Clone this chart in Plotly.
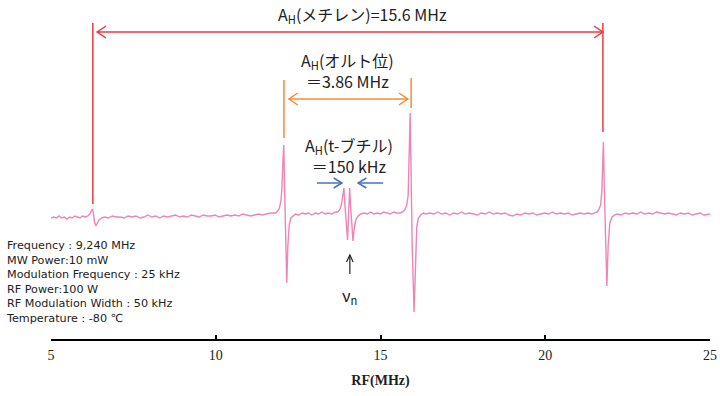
import plotly.graph_objects as go

# ---- data (RF frequency in MHz, ENDOR signal in arbitrary units) ----
rf_mhz = [
    5.00, 5.08, 5.16, 5.24, 5.32, 5.40, 5.48, 5.56, 5.64, 5.72, 5.80, 5.88, 5.96, 6.04, 6.12,
    6.18, 6.22, 6.26, 6.29, 6.32, 6.36, 6.40, 6.46, 6.54,
    6.62, 6.74, 6.86, 6.98, 7.10, 7.22, 7.34, 7.46, 7.58, 7.70, 7.82, 7.94, 8.06, 8.18, 8.30,
    8.42, 8.54, 8.66, 8.78, 8.90, 9.02, 9.14, 9.26, 9.38, 9.50, 9.62, 9.74, 9.86, 9.98, 10.10,
    10.22, 10.34, 10.46, 10.58, 10.70, 10.82, 10.94, 11.06, 11.18, 11.30, 11.42, 11.54, 11.66, 11.76,
    11.82, 11.88, 11.93, 11.98, 12.01, 12.04, 12.065, 12.09, 12.12, 12.155, 12.19, 12.23, 12.28, 12.34,
    12.42, 12.52, 12.62, 12.72, 12.82, 12.92, 13.02, 13.12, 13.22, 13.32, 13.42, 13.52, 13.62,
    13.70, 13.76, 13.81, 13.85, 13.89, 13.92, 13.96, 14.00, 14.03, 14.065, 14.09, 14.13, 14.165,
    14.20, 14.25, 14.32,
    14.40, 14.50, 14.60, 14.70, 14.80, 14.90, 15.00, 15.10, 15.20, 15.30, 15.40, 15.50, 15.60,
    15.67, 15.73, 15.79, 15.84, 15.87, 15.90, 15.93, 15.96, 16.02, 16.06, 16.10, 16.15, 16.22, 16.30,
    16.38, 16.50, 16.62, 16.74, 16.86, 16.98, 17.10, 17.22, 17.34, 17.46, 17.58, 17.70, 17.82,
    17.94, 18.06, 18.18, 18.30, 18.42, 18.54, 18.66, 18.78, 18.90, 19.02, 19.14, 19.26, 19.38,
    19.50, 19.62, 19.74, 19.86, 19.98, 20.10, 20.22, 20.34, 20.46, 20.58, 20.70, 20.82, 20.94,
    21.06, 21.18, 21.30, 21.42, 21.52,
    21.58, 21.63, 21.68, 21.72, 21.765, 21.79, 21.82, 21.87, 21.91, 21.96, 22.03, 22.10,
    22.18, 22.30, 22.42, 22.54, 22.66, 22.78, 22.90, 23.02, 23.14, 23.26, 23.38, 23.50, 23.62,
    23.74, 23.86, 23.98, 24.10, 24.22, 24.34, 24.46, 24.58, 24.70, 24.82, 24.94, 25.00,
]
signal = [
    -3, -2, -3, -1, -3, -2, -4, -2, -3, -1, -2, -3, -1, -2, -1,
    1, 4, 6, 1, -7, -11, -8, -5, -3,
    -2, -3, -1, -2, -2, -3, -1, -2, -1, -3, -2, 0, -2, -1, -3,
    -1, -2, -1, 0, -2, -1, -2, 0, -1, -2, 0, -1, -1, 0, -2,
    -1, 0, -1, 0, -1, 1, 0, -1, 0, 1, 0, 1, 2, 2,
    2, 4, 7, 14, 28, 55, 70, 25, -30, -68, -30, -10, -3, -1,
    1, 0, 2, 1, 2, 0, 2, 1, 3, 1, 2, 1, 3,
    3, 5, 10, 18, 27, 10, -10, -25, 0, 27, 10, -15, -26,
    -14, -5, -1,
    1, 2, 1, 3, 1, 2, 1, 3, 2, 1, 3, 2, 2,
    3, 5, 9, 20, 50, 102, 40, -30, -97, -40, -12, -3, 0, 2,
    1, 2, 1, 3, 1, 2, 0, 2, 1, 3, 1, 2, 1,
    0, 2, 1, 3, 1, 2, 1, 2, 0, -1, 1, 0, 2,
    1, 2, 0, 1, 2, 1, 3, 1, 2, 1, 2, 0, 1,
    2, 1, 2, 1, 2,
    3, 6, 10, 25, 73, 30, -20, -71, -30, -8, -2, 0,
    1, 0, 2, 1, 2, 1, 3, 1, 2, 1, 3, 2, 1,
    2, 1, 0, 2, 1, 2, 0, 1, 2, 0, 1, 1,
]
x_ticks = [5, 10, 15, 20, 25]

# splitting markers (MHz)
methylene_pair = [6.27, 21.75]
ortho_pair = [12.07, 15.93]
nu_n = 14.07

params_text = ("Frequency : 9,240 MHz<br>MW Power:10 mW<br>Modulation Frequency : 25 kHz"
               "<br>RF Power:100 W<br>RF Modulation Width : 50 kHz<br>Temperature : -80 ℃")

PINK = "#EF84B8"
RED = "#E8393F"
ORANGE = "#F28C38"
BLUE = "#4472C4"
INK = "#222222"
JP = "Noto Sans CJK JP, Noto Sans, sans-serif"

fig = go.Figure()
fig.add_trace(go.Scatter(x=rf_mhz, y=signal, mode="lines",
                         line=dict(color=PINK, width=1.4), hoverinfo="skip",
                         showlegend=False, cliponaxis=False))

shapes = []

def vline(x, y0, y1, color, width=1.5):
    shapes.append(dict(type="line", xref="x", yref="y", x0=x, x1=x, y0=y0, y1=y1,
                       line=dict(color=color, width=width)))

def harrow(x_from, x_to, y, color, both=False, dx=0.27, dy=6):
    shapes.append(dict(type="line", xref="x", yref="y", x0=x_from, x1=x_to, y0=y, y1=y,
                       line=dict(color=color, width=1.5)))
    def head(tip, direction):
        back = tip - direction * dx
        shapes.append(dict(type="path", xref="x", yref="y",
                           path=f"M {back},{y+dy} L {tip},{y} L {back},{y-dy}",
                           line=dict(color=color, width=1.5)))
    d = 1 if x_to > x_from else -1
    head(x_to, d)
    if both:
        head(x_from, -d)

# methylene (red)
vline(methylene_pair[0], 11, 192, RED)
vline(methylene_pair[1], 83, 192, RED)
harrow(6.40, methylene_pair[1], 183, RED, both=True)
# ortho (orange)
vline(ortho_pair[0], 77, 135, ORANGE)
vline(ortho_pair[1], 107, 137, ORANGE)
harrow(12.22, 15.83, 116, ORANGE, both=True)
# t-butyl (blue)
harrow(13.07, 13.83, 32, BLUE, dx=0.25, dy=5)
harrow(15.08, 14.32, 32, BLUE, dx=0.25, dy=5)
# nu_n pointer (black up arrow)
vline(nu_n, -40, -59, INK, width=1.2)
shapes.append(dict(type="path", xref="x", yref="y",
                   path=f"M {nu_n-0.1},-47 L {nu_n},-40 L {nu_n+0.1},-47",
                   line=dict(color=INK, width=1.2)))

annotations = [
    dict(x=14.44, y=201, text="A<sub>H</sub>(メチレン)=15.6 MHz"),
    dict(x=14.01, y=145, text="A<sub>H</sub>(オルト位)<br>＝3.86 MHz"),
    dict(x=14.05, y=60, text="A<sub>H</sub>(t-ブチル)<br>＝150 kHz"),
    dict(x=nu_n, y=-80, text="ν<sub>n</sub>"),
]
anns = []
for a in annotations:
    a.update(xref="x", yref="y", showarrow=False, xanchor="center", yanchor="middle",
             font=dict(family=JP, size=16, color=INK))
    anns.append(a)

anns.append(dict(xref="paper", yref="y", x=-0.0713, y=-22, xanchor="left", yanchor="top",
                 align="left", showarrow=False, text=params_text,
                 font=dict(family="DejaVu Sans", size=11.2, color=INK)))

fig.update_layout(
    width=720, height=396,
    margin=dict(l=51, r=10, t=5, b=57, autoexpand=False),
    paper_bgcolor="white", plot_bgcolor="white",
    shapes=shapes, annotations=anns,
    xaxis=dict(range=[5, 25], tickvals=x_ticks, ticks="inside", ticklen=4, tickwidth=1.5,
               tickcolor="black", showline=True, linecolor="black", linewidth=1.5,
               showgrid=False, zeroline=False,
               tickfont=dict(family="Liberation Serif", size=14, color=INK),
               ticklabelstandoff=2,
               title=dict(text="<b>RF(MHz)</b>", standoff=14,
                          font=dict(family="Liberation Serif", size=14, color=INK))),
    yaxis=dict(range=[-124, 210], visible=False, fixedrange=True),
    showlegend=False,
)

fig.write_html("out.html", config={"displayModeBar": False},
               post_script="document.body.style.margin='0';document.body.style.overflow='hidden';")
